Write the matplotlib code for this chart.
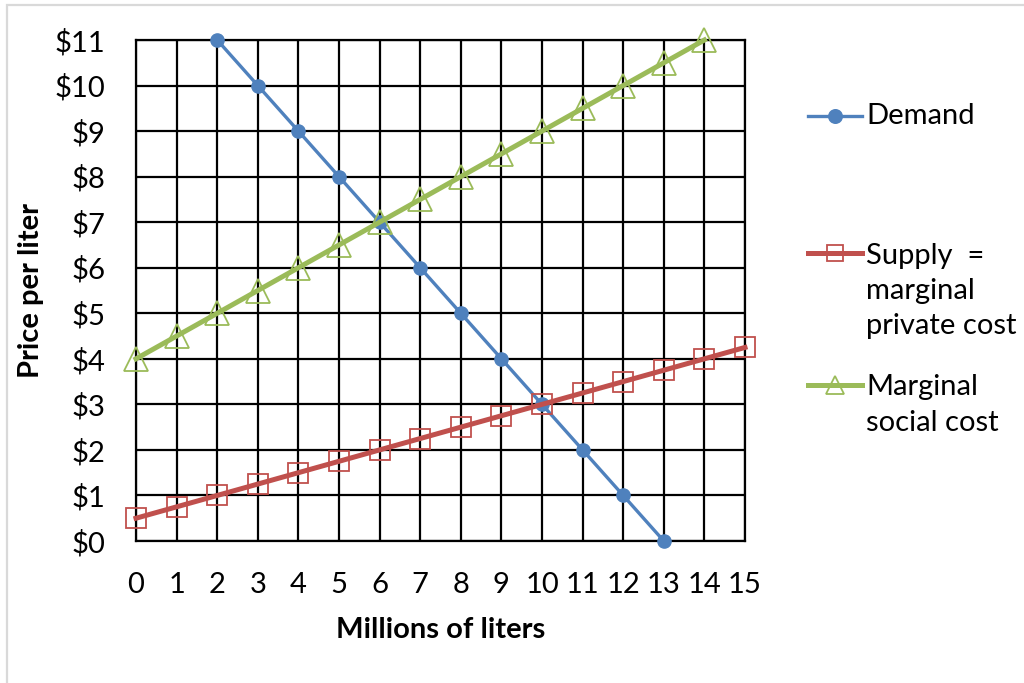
import matplotlib
matplotlib.use("Agg")
import matplotlib.pyplot as plt
from matplotlib.lines import Line2D
from matplotlib.patches import Rectangle

plt.rcParams['font.family'] = ['Lato', 'DejaVu Sans']

# Quantity (millions of liters) and prices
demand_q = [2, 3, 4, 5, 6, 7, 8, 9, 10, 11, 12, 13]
demand_p = [11, 10, 9, 8, 7, 6, 5, 4, 3, 2, 1, 0]

supply_q = [0, 1, 2, 3, 4, 5, 6, 7, 8, 9, 10, 11, 12, 13, 14, 15]
supply_p = [0.5, 0.75, 1.0, 1.25, 1.5, 1.75, 2.0, 2.25, 2.5, 2.75, 3.0,
            3.25, 3.5, 3.75, 4.0, 4.25]

msc_q = [0, 1, 2, 3, 4, 5, 6, 7, 8, 9, 10, 11, 12, 13, 14]
msc_p = [4.0, 4.5, 5.0, 5.5, 6.0, 6.5, 7.0, 7.5, 8.0, 8.5, 9.0, 9.5,
         10.0, 10.5, 11.0]

x_ticks = list(range(0, 16))
y_ticks = list(range(0, 12))
y_tick_labels = [f"${v}" for v in y_ticks]

BLUE = "#4F81BD"
RED = "#C0504D"
GREEN = "#9BBB59"
FS = 21

fig = plt.figure(figsize=(10.24, 6.83), dpi=100)
fig.patch.set_facecolor("white")

# outer chart-area border
fig.add_artist(Rectangle((7 / 1024, -0.1), 1.2, 1.1 - 5.5 / 683,
                         transform=fig.transFigure, fill=False,
                         edgecolor="#D9D9D9", linewidth=1.6))

ax = fig.add_axes([136 / 1024, 1 - 541 / 683, (745 - 136) / 1024, (541 - 40) / 683])
ax.set_xlim(0, 15)
ax.set_ylim(0, 11)
ax.set_xticks(x_ticks)
ax.set_yticks(y_ticks)
ax.set_yticklabels(y_tick_labels)
ax.grid(True, color="black", linewidth=1.6)
ax.set_axisbelow(True)
for s in ax.spines.values():
    s.set_color("black")
    s.set_linewidth(1.6)
ax.tick_params(length=0, labelsize=FS, pad=22, colors="black")
ax.tick_params(axis="x", pad=22)

ax.plot(demand_q, demand_p, color=BLUE, linewidth=2.4, marker="o",
        markersize=9.5, clip_on=False, zorder=3)
ax.plot(supply_q, supply_p, color=RED, linewidth=3.6, marker="s",
        markersize=15, markerfacecolor="none", markeredgewidth=1.3,
        clip_on=False, zorder=3)
ax.plot(msc_q, msc_p, color=GREEN, linewidth=3.6, marker="^",
        markersize=17, markerfacecolor="none", markeredgewidth=1.3,
        clip_on=False, zorder=3)

ax.set_xlabel("Millions of liters", fontsize=FS, fontweight="bold", labelpad=14)
ax.set_ylabel("Price per liter", fontsize=FS, fontweight="bold", labelpad=8)

# legend entries
def legend_entry(y_px, color, lw, marker, ms, mfc, label, label_mid_px):
    y = 1 - y_px / 683
    fig.add_artist(Line2D([808 / 1024, 862 / 1024], [y, y],
                          transform=fig.transFigure, color=color,
                          linewidth=lw))
    fig.add_artist(Line2D([835 / 1024], [y], transform=fig.transFigure,
                          color=color, marker=marker, markersize=ms,
                          markerfacecolor=mfc, markeredgewidth=1.3,
                          linestyle="none"))
    fig.text(866 / 1024, 1 - label_mid_px / 683, label, fontsize=FS,
             va="center", ha="left", linespacing=1.45)

legend_entry(116, BLUE, 2.4, "o", 9.5, BLUE, "Demand", 116)
legend_entry(253, RED, 3.6, "s", 12, "none",
             "Supply  =\nmarginal\nprivate cost", 291)
legend_entry(385, GREEN, 3.6, "^", 13, "none",
             "Marginal\nsocial cost", 405)

fig.savefig("out.png", dpi=100, facecolor="white")
